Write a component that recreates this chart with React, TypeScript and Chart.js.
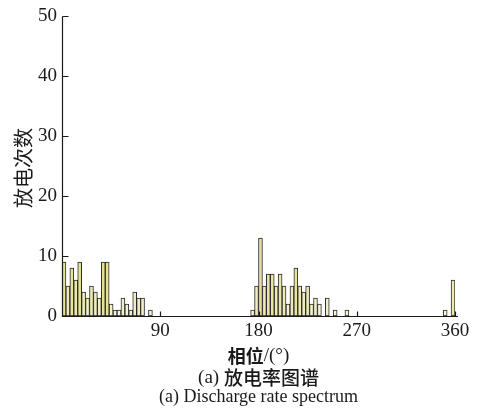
import React, { useEffect, useRef } from "react";
import { Chart, registerables } from "chart.js";

Chart.register(...registerables);

// Discharge counts per phase bin (100 bins of 3.6°, 0–360°)
const binCounts: number[] = [
  9, 5, 8, 6, 9, 4, 3, 5, 4, 3,
  9, 9, 2, 1, 1, 3, 2, 1, 4, 3,
  3, 0, 1, 0, 0, 0, 0, 0, 0, 0,
  0, 0, 0, 0, 0, 0, 0, 0, 0, 0,
  0, 0, 0, 0, 0, 0, 0, 0, 1, 5,
  13, 5, 7, 7, 5, 7, 5, 2, 5, 8,
  5, 4, 5, 2, 3, 2, 0, 3, 0, 1,
  0, 0, 1, 0, 0, 0, 0, 0, 0, 0,
  0, 0, 0, 0, 0, 0, 0, 0, 0, 0,
  0, 0, 0, 0, 0, 0, 0, 1, 0, 6,
];
const binWidthDeg = 3.6;
const binLabels: string[] = binCounts.map((_, i) => ((i + 0.5) * binWidthDeg).toFixed(1));

const xTicks: number[] = [90, 180, 270, 360];
const yTicks: number[] = [0, 10, 20, 30, 40, 50];

const yTitle = "放电次数";
const xTitleCjk = "相位";
const xTitleUnit = "/(°)";
const captionCn = ["(a) ", "放电率图谱"];
const captionEn = "(a) Discharge rate spectrum";

const SERIF = "'Liberation Serif', 'DejaVu Serif', serif";
const CJK = "'Noto Sans CJK SC', 'Noto Sans', sans-serif";

export default function App() {
  const ref = useRef<HTMLCanvasElement | null>(null);

  useEffect(() => {
    if (!ref.current) return;
    const deco = {
      id: "deco",
      afterDraw(chart: any) {
        const ctx = chart.ctx as CanvasRenderingContext2D;
        const xs = chart.scales.x;
        const ys = chart.scales.y;
        const ca = chart.chartArea;
        ctx.save();
        ctx.strokeStyle = "#1a1a1a";
        ctx.lineWidth = 1.2;
        ctx.beginPath();
        const x0 = Math.round(ca.left) + 0.5;
        const y0 = Math.round(ca.bottom) + 0.5;
        ctx.moveTo(x0, ys.getPixelForValue(50));
        ctx.lineTo(x0, y0);
        ctx.lineTo(ca.right + 3, y0);
        for (const v of yTicks) {
          if (v === 0) continue;
          const y = Math.round(ys.getPixelForValue(v)) + 0.5;
          ctx.moveTo(x0, y);
          ctx.lineTo(x0 + 6, y);
        }
        for (const v of xTicks) {
          const x = Math.round(xs.getPixelForValue(v)) + 0.5;
          ctx.moveTo(x, y0);
          ctx.lineTo(x, y0 - 5);
        }
        ctx.stroke();

        ctx.fillStyle = "#1a1a1a";
        // y title
        ctx.save();
        ctx.translate(23, 168);
        ctx.rotate(-Math.PI / 2);
        ctx.font = `20px ${CJK}`;
        ctx.textAlign = "center";
        ctx.textBaseline = "middle";
        ctx.fillText(yTitle, 0, 0);
        ctx.restore();

        const cx = (ca.left + ca.right) / 2;
        // x title
        ctx.textBaseline = "middle";
        ctx.textAlign = "left";
        ctx.font = `bold 18px ${CJK}`;
        const w1 = ctx.measureText(xTitleCjk).width;
        ctx.font = `19px ${SERIF}`;
        const w2 = ctx.measureText(xTitleUnit).width;
        let sx = cx - (w1 + w2) / 2;
        ctx.font = `bold 18px ${CJK}`;
        ctx.fillText(xTitleCjk, sx, 356);
        ctx.font = `19px ${SERIF}`;
        ctx.fillText(xTitleUnit, sx + w1, 356);

        // caption cn
        ctx.font = `19px ${SERIF}`;
        const c1 = ctx.measureText(captionCn[0]).width;
        ctx.font = `500 19px ${CJK}`;
        const c2 = ctx.measureText(captionCn[1]).width;
        sx = cx - (c1 + c2) / 2;
        ctx.font = `19px ${SERIF}`;
        ctx.fillText(captionCn[0], sx, 378);
        ctx.font = `500 19px ${CJK}`;
        ctx.fillText(captionCn[1], sx + c1, 378);

        // caption en
        ctx.font = `18px ${SERIF}`;
        ctx.textAlign = "center";
        ctx.fillText(captionEn, cx, 397);
        ctx.restore();
      },
    };

    const chart = new Chart(ref.current, {
      type: "bar",
      data: {
        labels: binLabels,
        datasets: [
          {
            data: binCounts,
            xAxisID: "xb",
            yAxisID: "y",
            borderColor: "#2a2a2a",
            borderWidth: 1,
            borderSkipped: false,
            barPercentage: 1,
            categoryPercentage: 1,
            backgroundColor: (c: any) => {
              const v = c.raw ?? 0;
              const t = Math.min(1, v / 9);
              const a = [248, 246, 226];
              const b = [230, 226, 150];
              const m = a.map((k, i) => Math.round(k + (b[i] - k) * t));
              return `rgb(${m[0]},${m[1]},${m[2]})`;
            },
          },
        ],
      },
      options: {
        animation: false,
        responsive: false,
        maintainAspectRatio: false,
        events: [],
        layout: { padding: { left: 0, right: 30, top: 13, bottom: 0 } },
        plugins: { legend: { display: false }, tooltip: { enabled: false }, title: { display: false } },
        scales: {
          xb: {
            type: "category",
            display: false,
            offset: true,
            grid: { display: false },
          },
          x: {
            type: "linear",
            position: "bottom",
            offset: false,
            min: 0,
            max: 360,
            afterFit: (s: any) => { s.height = 97; },
            grid: { display: false, drawTicks: false, offset: false },
            border: { display: false },
            ticks: {
              stepSize: 90,
              padding: 4,
              color: "#1a1a1a",
              font: { family: SERIF, size: 19 },
              maxRotation: 0,
              autoSkip: false,
              callback: (v: any) => (xTicks.includes(Number(v)) ? String(v) : ""),
            },
          },
          y: {
            type: "linear",
            min: 0,
            max: 50,
            afterFit: (s: any) => { s.width = 62; },
            grid: { display: false, drawTicks: false },
            border: { display: false },
            ticks: {
              stepSize: 10,
              padding: 5,
              color: "#1a1a1a",
              font: { family: SERIF, size: 19 },
              callback: (v: any) => (yTicks.includes(Number(v)) ? String(v) : ""),
            },
          },
        },
      },
      plugins: [deco],
    } as any);
    return () => chart.destroy();
  }, []);

  return (
    <div style={{ position: "absolute", left: 0, top: 0, width: 485, height: 413, background: "#fff" }}>
      <canvas ref={ref} width={485} height={413} style={{ display: "block", width: 485, height: 413 }} />
    </div>
  );
}
